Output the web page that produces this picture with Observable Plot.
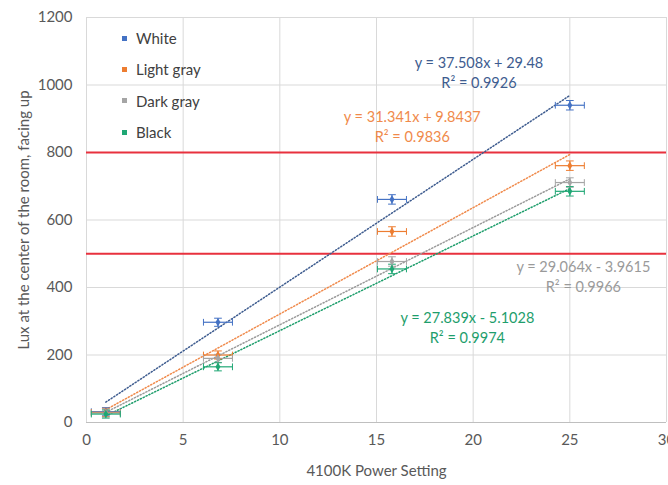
<!DOCTYPE html>
<html>
<head>
<meta charset="utf-8">
<script src="https://cdn.jsdelivr.net/npm/d3@7"></script>
<script src="https://cdn.jsdelivr.net/npm/@observablehq/plot@0.6"></script>
<style>
  html, body { margin: 0; padding: 0; background: #fff; overflow: hidden; }
  #wrap { position: relative; width: 668px; height: 485px; font-family: Lato, "Open Sans", sans-serif; }
  #legend { position: absolute; left: 122px; top: 23px; font-size: 15px; color: #404040; line-height: 31.3px; }
  #legend .sw { display: inline-block; width: 5px; height: 5px; margin-right: 9px; vertical-align: middle; position: relative; top: -2px; }
</style>
</head>
<body>
<div id="wrap"><div id="legend"></div></div>
<script>
const seriesNames = ["White", "Light gray", "Dark gray", "Black"];
const seriesColors = ["#4472C4", "#ED7D31", "#A5A5A5", "#1FA774"];
const trendColors = ["#3E5C8F", "#F08A4B", "#9A9A9A", "#1E9E6C"];
const powerSetting = [1, 6.8, 15.8, 25];
const luxWhite = [32, 297, 661, 940];
const luxLightGray = [30, 200, 566, 761];
const luxDarkGray = [28, 190, 477, 711];
const luxBlack = [25, 165, 455, 685];
const xErr = [0.75, 0.75, 0.75, 0.75];
const yErr = [12, 12, 14, 14];
const thresholds = [500, 800];
const equations = ["y = 37.508x + 29.48", "y = 31.341x + 9.8437", "y = 29.064x - 3.9615", "y = 27.839x - 5.1028"];
const rSquared = ["R² = 0.9926", "R² = 0.9836", "R² = 0.9966", "R² = 0.9974"];
const xTicks = [0, 5, 10, 15, 20, 25, 30];
const yTicks = [0, 200, 400, 600, 800, 1000, 1200];

const seriesValues = [luxWhite, luxLightGray, luxDarkGray, luxBlack];
const data = [];
seriesNames.forEach((s, i) => {
  powerSetting.forEach((x, j) => {
    data.push({series: s, x, y: seriesValues[i][j], ex: xErr[j], ey: yErr[j]});
  });
});

// label anchor placement (layout only)
const labelPos = [
  {x: 20.3, y: 1064}, {x: 16.85, y: 904}, {x: 25.7, y: 459}, {x: 19.7, y: 308}
];
const labels = [];
seriesNames.forEach((s, i) => {
  labels.push({series: s, text: equations[i], x: labelPos[i].x, y: labelPos[i].y});
  labels.push({series: s, text: rSquared[i], x: labelPos[i].x, y: labelPos[i].y - 58});
});

const color = {domain: seriesNames, range: seriesColors};
const tcolor = d3.scaleOrdinal(seriesNames, trendColors);

const marks = [
  Plot.gridX(xTicks, {stroke: "#d9d9d9", strokeOpacity: 1}),
  Plot.gridY(yTicks, {stroke: "#d9d9d9", strokeOpacity: 1}),
  Plot.ruleY([0], {stroke: "#bfbfbf"}),
  Plot.ruleY(thresholds, {stroke: "#E8313E", strokeWidth: 2})
];
seriesNames.forEach((s, i) => {
  marks.push(Plot.linearRegressionY(data.filter(d => d.series === s), {
    x: "x", y: "y", stroke: trendColors[i], strokeWidth: 1.5, strokeDasharray: "1.2,2", ci: 0
  }));
});
marks.push(
  Plot.link(data, {x1: d => d.x - d.ex, x2: d => d.x + d.ex, y1: "y", y2: "y", stroke: "series", strokeWidth: 1.2}),
  Plot.link(data, {x1: "x", x2: "x", y1: d => d.y - d.ey, y2: d => d.y + d.ey, stroke: "series", strokeWidth: 1.2}),
  Plot.link(data, {x1: d => d.x - d.ex, x2: d => d.x - d.ex, y1: d => d.y - 10, y2: d => d.y + 10, stroke: "series", strokeWidth: 1}),
  Plot.link(data, {x1: d => d.x + d.ex, x2: d => d.x + d.ex, y1: d => d.y - 10, y2: d => d.y + 10, stroke: "series", strokeWidth: 1}),
  Plot.link(data, {x1: d => d.x - 0.2, x2: d => d.x + 0.2, y1: d => d.y - d.ey, y2: d => d.y - d.ey, stroke: "series", strokeWidth: 1}),
  Plot.link(data, {x1: d => d.x - 0.2, x2: d => d.x + 0.2, y1: d => d.y + d.ey, y2: d => d.y + d.ey, stroke: "series", strokeWidth: 1}),
  Plot.dot(data, {x: "x", y: "y", fill: "series", r: 2.6, symbol: "diamond"}),
  Plot.text(labels, {x: "x", y: "y", text: "text", fill: d => tcolor(d.series), fontSize: 14.5, fontFamily: "Lato, 'Open Sans', sans-serif"})
);

const chart = Plot.plot({
  width: 668,
  height: 485,
  marginLeft: 86,
  marginRight: 2,
  marginTop: 17,
  marginBottom: 63,
  style: {fontFamily: "Lato, 'Open Sans', sans-serif", fontSize: "15px", color: "#595959", background: "#fff", overflow: "visible"},
  x: {domain: [0, 30], ticks: xTicks, tickFormat: d => String(d), tickSize: 0, tickPadding: 12, label: "4100K Power Setting", labelArrow: "none", labelAnchor: "center", labelOffset: 53},
  y: {domain: [0, 1200], ticks: yTicks, tickFormat: d => String(d), tickSize: 0, tickPadding: 14, label: "Lux at the center of the room, facing up", labelArrow: "none", labelAnchor: "center", labelOffset: 68},
  color,
  marks
});
const wrap = document.getElementById("wrap");
wrap.insertBefore(chart, wrap.firstChild);

const legend = document.getElementById("legend");
seriesNames.forEach((s, i) => {
  const row = document.createElement("div");
  row.innerHTML = `<span class="sw" style="background:${seriesColors[i]}"></span>${s}`;
  legend.appendChild(row);
});
</script>
</body>
</html>
